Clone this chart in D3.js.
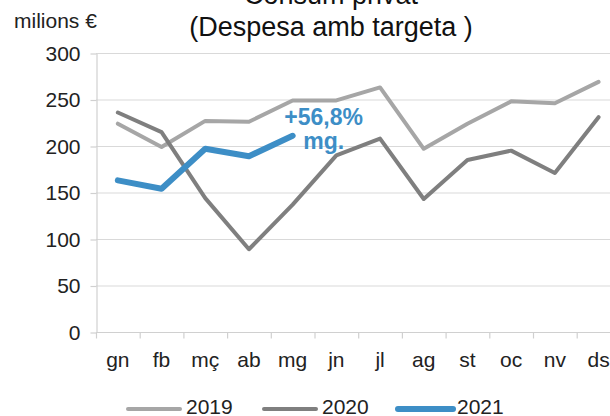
<!DOCTYPE html>
<html>
<head>
<meta charset="utf-8">
<script src="https://cdn.jsdelivr.net/npm/d3@7"></script>
<style>
    body { margin: 0; background: #fff; }
    text { font-family: "Liberation Sans", Arial, sans-serif; }
</style>
</head>
<body>
<div id="chart"></div>
<script>
"use strict";

var months = ["gn", "fb", "mç", "ab", "mg", "jn", "jl", "ag", "st", "oc", "nv", "ds"];
var yTicks = [0, 50, 100, 150, 200, 250, 300];
var years = ["2019", "2020", "2021"];

var values2019 = [224, 199, 227, 226, 249, 249, 263, 197, 224, 248, 246, 269];
var values2020 = [236, 215, 144, 89, 137, 190, 208, 143, 185, 195, 171, 231];
var values2021 = [163, 154, 197, 189, 211];

var note = ["+56,8%", "mg."];

var series = [
    { name: years[0], values: values2019, color: "#a6a6a6", width: 4 },
    { name: years[1], values: values2020, color: "#7f7f7f", width: 4 },
    { name: years[2], values: values2021, color: "#3d8ec6", width: 6 }
];

var chartWidth = 610, chartHeight = 416;
var plotLeft = 96, plotTop = 53, plotBottom = 332, step = 43.7;

var svg = d3.select("#chart")
    .append("svg")
    .attr("width", chartWidth)
    .attr("height", chartHeight);

var x = d3.scaleBand()
    .domain(months)
    .range([plotLeft, plotLeft + step * months.length])
    .paddingInner(0)
    .paddingOuter(0);

var y = d3.scaleLinear()
    .domain([0, 300])
    .range([plotBottom, plotTop]);

// grid
svg.append("g")
    .selectAll("line")
    .data(yTicks.slice(1))
    .enter()
    .append("line")
    .attr("x1", plotLeft)
    .attr("x2", chartWidth)
    .attr("y1", function (d) { return y(d) + 0.5; })
    .attr("y2", function (d) { return y(d) + 0.5; })
    .attr("stroke", "#d9d9d9")
    .attr("stroke-width", 1.2);

// y axis
var yAxis = svg.append("g")
    .attr("transform", "translate(" + (plotLeft + 0.5) + ",0.5)")
    .call(d3.axisLeft(y).tickValues(yTicks).tickSize(6).tickPadding(10).tickSizeOuter(0));
yAxis.select(".domain").attr("stroke", "#d0d0d0").attr("stroke-width", 1.2);
yAxis.selectAll(".tick line").attr("stroke", "#d0d0d0").attr("stroke-width", 1.2);
yAxis.selectAll(".tick text")
    .attr("font-size", "21px")
    .attr("font-family", "'Liberation Sans', Arial, sans-serif")
    .attr("fill", "#222");

// x axis
var xAxis = svg.append("g")
    .attr("transform", "translate(0," + (plotBottom + 0.5) + ")");
xAxis.append("line")
    .attr("x1", plotLeft)
    .attr("x2", chartWidth)
    .attr("stroke", "#d0d0d0")
    .attr("stroke-width", 1.2);
xAxis.selectAll("line.tk")
    .data(months)
    .enter()
    .append("line")
    .attr("class", "tk")
    .attr("x1", function (d) { return x(d) + 0.5; })
    .attr("x2", function (d) { return x(d) + 0.5; })
    .attr("y1", 0)
    .attr("y2", 6)
    .attr("stroke", "#d0d0d0")
    .attr("stroke-width", 1.2);
xAxis.selectAll("text")
    .data(months)
    .enter()
    .append("text")
    .text(function (d) { return d; })
    .attr("x", function (d) { return x(d) + x.bandwidth() / 2; })
    .attr("y", 34.5)
    .attr("text-anchor", "middle")
    .attr("font-size", "21px")
    .attr("fill", "#222");

// lines
var line = d3.line()
    .x(function (d, i) { return x(months[i]) + x.bandwidth() / 2; })
    .y(function (d) { return y(d); });

svg.selectAll("path.series")
    .data(series)
    .enter()
    .append("path")
    .attr("class", "series")
    .attr("d", function (d) { return line(d.values); })
    .attr("fill", "none")
    .attr("stroke", function (d) { return d.color; })
    .attr("stroke-width", function (d) { return d.width; })
    .attr("stroke-linejoin", "round")
    .attr("stroke-linecap", "round");

// annotation
var last = values2021.length - 1;
var nx = x(months[last]) + x.bandwidth() / 2 + 31;
var ny = y(values2021[last]);
svg.selectAll("text.note")
    .data(note)
    .enter()
    .append("text")
    .attr("class", "note")
    .text(function (d) { return d; })
    .attr("x", nx)
    .attr("y", function (d, i) { return ny - 11 + i * 24; })
    .attr("text-anchor", "middle")
    .attr("font-size", "23px")
    .attr("font-weight", "bold")
    .attr("fill", "#3d8ec6");

// titles
svg.append("text")
    .text("Consum privat")
    .attr("x", 331)
    .attr("y", 4)
    .attr("text-anchor", "middle")
    .attr("font-size", "27px")
    .attr("fill", "#111");
svg.append("text")
    .text("(Despesa amb targeta )")
    .attr("x", 331)
    .attr("y", 36)
    .attr("text-anchor", "middle")
    .attr("font-size", "27px")
    .attr("fill", "#111");
svg.append("text")
    .text("milions €")
    .attr("x", 14)
    .attr("y", 28)
    .attr("font-size", "21px")
    .attr("fill", "#222");

// legend
var legendX = [128, 264, 398];
var legend = svg.selectAll("g.legend")
    .data(series)
    .enter()
    .append("g")
    .attr("class", "legend")
    .attr("transform", function (d, i) { return "translate(" + legendX[i] + ",409)"; });
legend.append("line")
    .attr("x1", 0)
    .attr("x2", function (d) { return d.width > 4 ? 55 : 52; })
    .attr("stroke", function (d) { return d.color; })
    .attr("stroke-width", function (d) { return d.width; })
    .attr("stroke-linecap", "round");
legend.append("text")
    .text(function (d) { return d.name; })
    .attr("x", function (d) { return d.width > 4 ? 59 : 58; })
    .attr("y", 5)
    .attr("font-size", "21px")
    .attr("fill", "#222");
</script>
</body>
</html>
